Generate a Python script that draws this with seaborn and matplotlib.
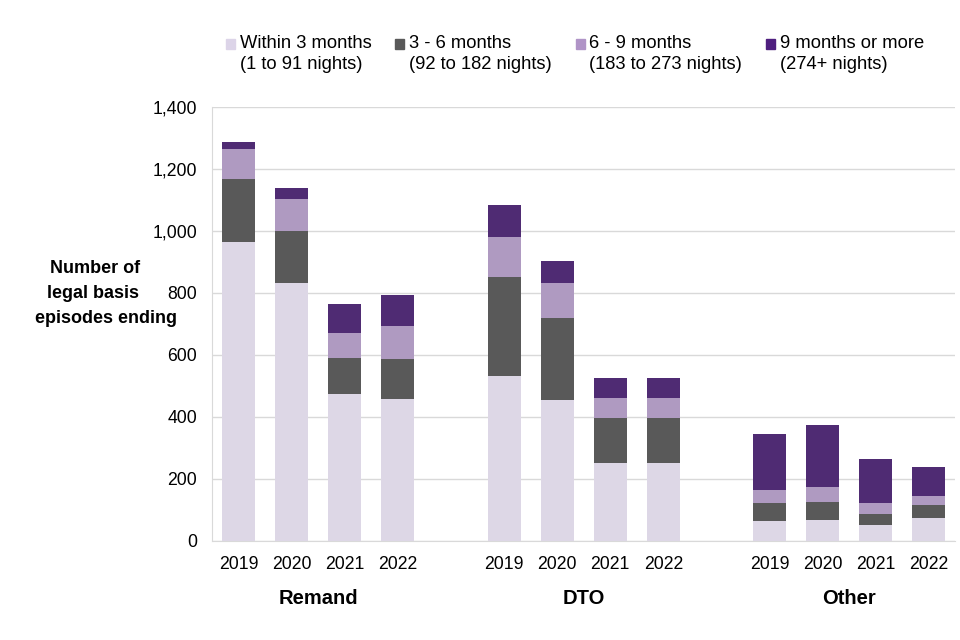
import numpy as np
import pandas as pd
import matplotlib.pyplot as plt
import seaborn as sns
from matplotlib.ticker import FuncFormatter
from matplotlib.patches import Patch, Rectangle
from matplotlib.legend_handler import HandlerPatch

# dados
grupos = ["Remand", "DTO", "Other"]
anos = ["2019", "2020", "2021", "2022"]
series = ["Within 3 months\n(1 to 91 nights)",
          "3 - 6 months\n(92 to 182 nights)",
          "6 - 9 months\n(183 to 273 nights)",
          "9 months or more\n(274+ nights)"]
within_3 = [965, 833, 475, 456, 533, 455, 252, 252, 65, 68, 52, 74]
meses_3_6 = [203, 167, 116, 132, 319, 265, 143, 143, 58, 58, 35, 42]
meses_6_9 = [97, 103, 81, 106, 129, 113, 66, 66, 42, 48, 36, 29]
meses_9_mais = [22, 36, 93, 100, 103, 70, 65, 65, 180, 200, 142, 94]
cores = ["#DCD4E8", "#595959", "#B094C7", "#4F1F7F"]
titulo_y = ["Number of", "legal basis", "episodes ending"]

sns.set_style("white")
plt.rcParams['font.family'] = ['Liberation Sans', 'DejaVu Sans']
plt.rcParams['text.color'] = 'black'

# posições: 4 anos por grupo com um espaço entre grupos
pos = [g * 5 + i for g in range(len(grupos)) for i in range(len(anos))]
df = pd.DataFrame({"pos": pos, "ano": anos * len(grupos)})
valores = [within_3, meses_3_6, meses_6_9, meses_9_mais]

fig = plt.figure(figsize=(9.6, 6.4), dpi=100)
ax = fig.add_axes([0.221, 0.155, 0.774, 0.678])

base = np.zeros(len(pos))
for serie, vals, cor in zip(series, valores, cores):
    sns.barplot(x=df["pos"], y=vals, bottom=base, native_scale=True,
                width=0.62, color=cor, ax=ax, linewidth=0, zorder=3)
    base = base + np.array(vals)

ax.set_xlim(-0.5, 13.5)
ax.set_ylim(0, 1400)
ax.set_yticks(range(0, 1401, 200))
ax.yaxis.set_major_formatter(FuncFormatter(lambda v, p: f"{int(v):,}"))
ax.set_xticks(pos)
ax.set_xticklabels(df["ano"])
ax.tick_params(axis="both", labelsize=12.7, length=0, labelcolor="black")
ax.tick_params(axis="y", pad=11)
ax.tick_params(axis="x", pad=11)
ax.grid(axis="y", color="#D9D9D9", linewidth=1, zorder=0)
for s in ["top", "right"]:
    ax.spines[s].set_visible(False)
ax.spines["left"].set_color("#D9D9D9")
ax.spines["bottom"].set_color("#D9D9D9")
ax.set_xlabel("")
ax.set_ylabel("")

for g, nome in enumerate(grupos):
    ax.text(g * 5 + 1.5, -0.134, nome, transform=ax.get_xaxis_transform(),
            ha="center", va="center", fontsize=14.5, fontweight="bold")

# título do eixo y, uma linha por vez
for (xl, yl), linha in zip([(0.099, 0.580), (0.097, 0.542), (0.110, 0.503)], titulo_y):
    fig.text(xl, yl, linha, ha="center", va="center", fontsize=13,
             fontweight="bold")


# quadradinho da legenda alinhado com a primeira linha do texto
def quadrado_topo(legend, orig_handle, xdescent, ydescent, width, height, fontsize):
    return Rectangle((-xdescent, -ydescent + 7), width, height)


handles = [Patch(color=c) for c in cores]
leg = fig.legend(handles, series, loc="upper left", bbox_to_anchor=(0.222, 0.966),
                 ncol=4, frameon=False, fontsize=13.2, handlelength=0.5,
                 handleheight=0.5, handletextpad=0.25, columnspacing=1.3,
                 labelspacing=0.2, borderpad=0.2, labelcolor="black",
                 handler_map={Patch: HandlerPatch(patch_func=quadrado_topo)})
for t in leg.get_texts():
    t.set_linespacing(1.35)

fig.savefig("out.png", dpi=100)
